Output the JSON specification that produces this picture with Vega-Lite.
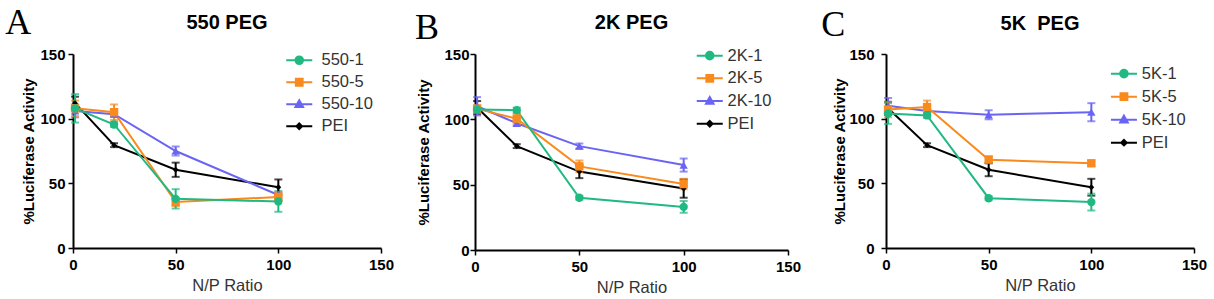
{
  "$schema": "https://vega.github.io/schema/vega-lite/v6.json",
  "padding": {"left": 5, "top": 4, "right": 0, "bottom": 0},
  "spacing": 20,
  "datasets": {
    "A": [
      {"series": "PEI", "np": 1, "mean": 112, "sd": 5},
      {"series": "PEI", "np": 20, "mean": 79.5, "sd": 1.5},
      {"series": "PEI", "np": 50, "mean": 60.5, "sd": 5.5},
      {"series": "PEI", "np": 100, "mean": 47, "sd": 6},
      {"series": "550-10", "np": 1, "mean": 106, "sd": 5},
      {"series": "550-10", "np": 20, "mean": 103.5, "sd": 2},
      {"series": "550-10", "np": 50, "mean": 75, "sd": 3.5},
      {"series": "550-10", "np": 100, "mean": 41, "sd": 2},
      {"series": "550-5", "np": 1, "mean": 108, "sd": 6},
      {"series": "550-5", "np": 20, "mean": 105, "sd": 6},
      {"series": "550-5", "np": 50, "mean": 35.5, "sd": 3},
      {"series": "550-5", "np": 100, "mean": 39.5, "sd": 3},
      {"series": "550-1", "np": 1, "mean": 108, "sd": 11},
      {"series": "550-1", "np": 20, "mean": 95.5, "sd": 2},
      {"series": "550-1", "np": 50, "mean": 38, "sd": 7.5},
      {"series": "550-1", "np": 100, "mean": 36, "sd": 8}
    ],
    "B": [
      {"series": "PEI", "np": 1, "mean": 109, "sd": 5},
      {"series": "PEI", "np": 20, "mean": 79.5, "sd": 1.5},
      {"series": "PEI", "np": 50, "mean": 60, "sd": 5},
      {"series": "PEI", "np": 100, "mean": 47, "sd": 7},
      {"series": "2K-10", "np": 1, "mean": 110, "sd": 7},
      {"series": "2K-10", "np": 20, "mean": 97, "sd": 2},
      {"series": "2K-10", "np": 50, "mean": 79.5, "sd": 2},
      {"series": "2K-10", "np": 100, "mean": 65, "sd": 5},
      {"series": "2K-5", "np": 1, "mean": 108, "sd": 3},
      {"series": "2K-5", "np": 20, "mean": 100.5, "sd": 4},
      {"series": "2K-5", "np": 50, "mean": 64, "sd": 4.5},
      {"series": "2K-5", "np": 100, "mean": 50.5, "sd": 4},
      {"series": "2K-1", "np": 1, "mean": 107.5, "sd": 2},
      {"series": "2K-1", "np": 20, "mean": 107, "sd": 2},
      {"series": "2K-1", "np": 50, "mean": 40, "sd": 1.5},
      {"series": "2K-1", "np": 100, "mean": 33, "sd": 4.5}
    ],
    "C": [
      {"series": "PEI", "np": 1, "mean": 108, "sd": 5},
      {"series": "PEI", "np": 20, "mean": 79.5, "sd": 1.5},
      {"series": "PEI", "np": 50, "mean": 60.5, "sd": 5},
      {"series": "PEI", "np": 100, "mean": 47, "sd": 6.5},
      {"series": "5K-10", "np": 1, "mean": 110, "sd": 6},
      {"series": "5K-10", "np": 20, "mean": 106, "sd": 2},
      {"series": "5K-10", "np": 50, "mean": 103, "sd": 3.5},
      {"series": "5K-10", "np": 100, "mean": 105, "sd": 7},
      {"series": "5K-5", "np": 1, "mean": 107, "sd": 6},
      {"series": "5K-5", "np": 20, "mean": 109, "sd": 5},
      {"series": "5K-5", "np": 50, "mean": 68.3, "sd": 2.5},
      {"series": "5K-5", "np": 100, "mean": 65.5, "sd": 2},
      {"series": "5K-1", "np": 1, "mean": 104, "sd": 8},
      {"series": "5K-1", "np": 20, "mean": 102.5, "sd": 2},
      {"series": "5K-1", "np": 50, "mean": 38.5, "sd": 1.5},
      {"series": "5K-1", "np": 100, "mean": 35.5, "sd": 6.5}
    ]
  },
  "hconcat": [
    {
      "width": 308, "height": 194,
      "data": {"name": "A"},
      "title": {"text": "550 PEG", "offset": -28},
      "layer": [
        {"mark": {"type": "line", "strokeWidth": 2}, "encoding": {
          "x": {"field": "np", "type": "quantitative", "title": "N/P Ratio", "scale": {"domain": [0, 150], "nice": false}, "axis": {"values": [0, 50, 100, 150]}},
          "y": {"field": "mean", "type": "quantitative", "title": "%Luciferase Activity", "scale": {"domain": [0, 150], "nice": false}, "axis": {"values": [0, 50, 100, 150], "labelPadding": 3, "titlePadding": 3}},
          "color": {"field": "series", "type": "nominal", "scale": {"domain": ["550-1", "550-5", "550-10", "PEI"], "range": ["#21b982", "#f98a1d", "#6a64f5", "#000000"]}, "legend": null}}},
        {"mark": {"type": "errorbar", "ticks": true, "thickness": 2, "size": 8}, "encoding": {"x": {"field": "np", "type": "quantitative", "title": "N/P Ratio"}, "y": {"field": "mean", "type": "quantitative", "title": "%Luciferase Activity"}, "yError": {"field": "sd"}, "color": {"field": "series", "type": "nominal", "legend": null}}},
        {"mark": {"type": "point", "filled": true, "size": 70, "opacity": 1}, "encoding": {"x": {"field": "np", "type": "quantitative", "title": "N/P Ratio"}, "y": {"field": "mean", "type": "quantitative", "title": "%Luciferase Activity"}, "color": {"field": "series", "type": "nominal", "legend": null}, "shape": {"field": "series", "type": "nominal", "scale": {"domain": ["550-1", "550-5", "550-10", "PEI"], "range": ["circle", "square", "triangle-up", "M0,-0.7L0.7,0L0,0.7L-0.7,0Z"]}, "legend": null}}},
        {"data": {"values": []}, "mark": {"type": "point", "filled": true, "size": 64, "opacity": 1, "strokeWidth": 2},
         "encoding": {
           "fill": {"field": "series", "type": "nominal", "scale": {"domain": ["550-1", "550-5", "550-10", "PEI"], "range": ["#21b982", "#f98a1d", "#6a64f5", "#000000"]}, "legend": {"title": null, "orient": "none", "legendX": 218, "legendY": -2, "labelOffset": 14, "rowPadding": 5, "padding": 0, "symbolSize": 64, "symbolStrokeWidth": 2}},
           "stroke": {"field": "series", "type": "nominal", "scale": {"domain": ["550-1", "550-5", "550-10", "PEI"], "range": ["#21b982", "#f98a1d", "#6a64f5", "#000000"]}, "legend": {"title": null, "orient": "none", "legendX": 218, "legendY": -2, "labelOffset": 14, "rowPadding": 5, "padding": 0, "symbolSize": 64, "symbolStrokeWidth": 2}},
           "shape": {"field": "series", "type": "nominal", "scale": {"domain": ["550-1", "550-5", "550-10", "PEI"], "range": ["M-3.25,0H3.25M0.95,0A0.95,0.95,0,1,1,-0.95,0A0.95,0.95,0,1,1,0.95,0Z", "M-3.25,0H3.25M-0.85,-0.85H0.85V0.85H-0.85Z", "M-3.25,0H3.25M0,-1L0.95,0.7H-0.95Z", "M-3.25,0H3.25M0,-0.7L0.7,0L0,0.7L-0.7,0Z"]}, "legend": {"title": null, "orient": "none", "legendX": 218, "legendY": -2, "labelOffset": 14, "rowPadding": 5, "padding": 0, "symbolSize": 64, "symbolStrokeWidth": 2}}
         }},
        {"data": {"values": [{"letter": "A"}]}, "mark": {"type": "text", "font": "Liberation Serif", "fontSize": 36, "align": "left", "baseline": "alphabetic", "color": "#000000"},
         "encoding": {"x": {"datum": -33, "type": "quantitative"}, "y": {"datum": 165.5, "type": "quantitative"}, "text": {"field": "letter"}}}
      ],
      "resolve": {"scale": {"shape": "independent", "fill": "independent", "stroke": "independent"}}
    },
    {
      "width": 313, "height": 196,
      "data": {"name": "B"},
      "title": {"text": "2K PEG", "offset": -23.3},
      "layer": [
        {"mark": {"type": "line", "strokeWidth": 2}, "encoding": {
          "x": {"field": "np", "type": "quantitative", "title": "N/P Ratio", "scale": {"domain": [0, 150], "nice": false}, "axis": {"values": [0, 50, 100, 150]}},
          "y": {"field": "mean", "type": "quantitative", "title": "%Luciferase Activity", "scale": {"domain": [0, 150], "nice": false}, "axis": {"values": [0, 50, 100, 150], "labelPadding": 1, "titlePadding": 12}},
          "color": {"field": "series", "type": "nominal", "scale": {"domain": ["2K-1", "2K-5", "2K-10", "PEI"], "range": ["#21b982", "#f98a1d", "#6a64f5", "#000000"]}, "legend": null}}},
        {"mark": {"type": "errorbar", "ticks": true, "thickness": 2, "size": 8}, "encoding": {"x": {"field": "np", "type": "quantitative", "title": "N/P Ratio"}, "y": {"field": "mean", "type": "quantitative", "title": "%Luciferase Activity"}, "yError": {"field": "sd"}, "color": {"field": "series", "type": "nominal", "legend": null}}},
        {"mark": {"type": "point", "filled": true, "size": 70, "opacity": 1}, "encoding": {"x": {"field": "np", "type": "quantitative", "title": "N/P Ratio"}, "y": {"field": "mean", "type": "quantitative", "title": "%Luciferase Activity"}, "color": {"field": "series", "type": "nominal", "legend": null}, "shape": {"field": "series", "type": "nominal", "scale": {"domain": ["2K-1", "2K-5", "2K-10", "PEI"], "range": ["circle", "square", "triangle-up", "M0,-0.7L0.7,0L0,0.7L-0.7,0Z"]}, "legend": null}}},
        {"data": {"values": []}, "mark": {"type": "point", "filled": true, "size": 64, "opacity": 1, "strokeWidth": 2},
         "encoding": {
           "fill": {"field": "series", "type": "nominal", "scale": {"domain": ["2K-1", "2K-5", "2K-10", "PEI"], "range": ["#21b982", "#f98a1d", "#6a64f5", "#000000"]}, "legend": {"title": null, "orient": "none", "legendX": 226.5, "legendY": -6.6, "labelOffset": 9.5, "rowPadding": 5.7, "padding": 0, "symbolSize": 64, "symbolStrokeWidth": 2}},
           "stroke": {"field": "series", "type": "nominal", "scale": {"domain": ["2K-1", "2K-5", "2K-10", "PEI"], "range": ["#21b982", "#f98a1d", "#6a64f5", "#000000"]}, "legend": {"title": null, "orient": "none", "legendX": 226.5, "legendY": -6.6, "labelOffset": 9.5, "rowPadding": 5.7, "padding": 0, "symbolSize": 64, "symbolStrokeWidth": 2}},
           "shape": {"field": "series", "type": "nominal", "scale": {"domain": ["2K-1", "2K-5", "2K-10", "PEI"], "range": ["M-3.25,0H3.25M0.95,0A0.95,0.95,0,1,1,-0.95,0A0.95,0.95,0,1,1,0.95,0Z", "M-3.25,0H3.25M-0.85,-0.85H0.85V0.85H-0.85Z", "M-3.25,0H3.25M0,-1L0.95,0.7H-0.95Z", "M-3.25,0H3.25M0,-0.7L0.7,0L0,0.7L-0.7,0Z"]}, "legend": {"title": null, "orient": "none", "legendX": 226.5, "legendY": -6.6, "labelOffset": 9.5, "rowPadding": 5.7, "padding": 0, "symbolSize": 64, "symbolStrokeWidth": 2}}
         }},
        {"data": {"values": [{"letter": "B"}]}, "mark": {"type": "text", "font": "Liberation Serif", "fontSize": 36, "align": "left", "baseline": "alphabetic", "color": "#000000"},
         "encoding": {"x": {"datum": -28.8, "type": "quantitative"}, "y": {"datum": 161.5, "type": "quantitative"}, "text": {"field": "letter"}}}
      ],
      "resolve": {"scale": {"shape": "independent", "fill": "independent", "stroke": "independent"}}
    },
    {
      "width": 308, "height": 194,
      "data": {"name": "C"},
      "title": {"text": "5K\u00a0 PEG", "offset": -26.6},
      "layer": [
        {"mark": {"type": "line", "strokeWidth": 2}, "encoding": {
          "x": {"field": "np", "type": "quantitative", "title": "N/P Ratio", "scale": {"domain": [0, 150], "nice": false}, "axis": {"values": [0, 50, 100, 150]}},
          "y": {"field": "mean", "type": "quantitative", "title": "%Luciferase Activity", "scale": {"domain": [0, 150], "nice": false}, "axis": {"values": [0, 50, 100, 150], "labelPadding": 7, "titlePadding": 1}},
          "color": {"field": "series", "type": "nominal", "scale": {"domain": ["5K-1", "5K-5", "5K-10", "PEI"], "range": ["#21b982", "#f98a1d", "#6a64f5", "#000000"]}, "legend": null}}},
        {"mark": {"type": "errorbar", "ticks": true, "thickness": 2, "size": 8}, "encoding": {"x": {"field": "np", "type": "quantitative", "title": "N/P Ratio"}, "y": {"field": "mean", "type": "quantitative", "title": "%Luciferase Activity"}, "yError": {"field": "sd"}, "color": {"field": "series", "type": "nominal", "legend": null}}},
        {"mark": {"type": "point", "filled": true, "size": 70, "opacity": 1}, "encoding": {"x": {"field": "np", "type": "quantitative", "title": "N/P Ratio"}, "y": {"field": "mean", "type": "quantitative", "title": "%Luciferase Activity"}, "color": {"field": "series", "type": "nominal", "legend": null}, "shape": {"field": "series", "type": "nominal", "scale": {"domain": ["5K-1", "5K-5", "5K-10", "PEI"], "range": ["circle", "square", "triangle-up", "M0,-0.7L0.7,0L0,0.7L-0.7,0Z"]}, "legend": null}}},
        {"data": {"values": []}, "mark": {"type": "point", "filled": true, "size": 64, "opacity": 1, "strokeWidth": 2},
         "encoding": {
           "fill": {"field": "series", "type": "nominal", "scale": {"domain": ["5K-1", "5K-5", "5K-10", "PEI"], "range": ["#21b982", "#f98a1d", "#6a64f5", "#000000"]}, "legend": {"title": null, "orient": "none", "legendX": 229.7, "legendY": 11.4, "labelOffset": 9.5, "rowPadding": 6, "padding": 0, "symbolSize": 64, "symbolStrokeWidth": 2}},
           "stroke": {"field": "series", "type": "nominal", "scale": {"domain": ["5K-1", "5K-5", "5K-10", "PEI"], "range": ["#21b982", "#f98a1d", "#6a64f5", "#000000"]}, "legend": {"title": null, "orient": "none", "legendX": 229.7, "legendY": 11.4, "labelOffset": 9.5, "rowPadding": 6, "padding": 0, "symbolSize": 64, "symbolStrokeWidth": 2}},
           "shape": {"field": "series", "type": "nominal", "scale": {"domain": ["5K-1", "5K-5", "5K-10", "PEI"], "range": ["M-3.25,0H3.25M0.95,0A0.95,0.95,0,1,1,-0.95,0A0.95,0.95,0,1,1,0.95,0Z", "M-3.25,0H3.25M-0.85,-0.85H0.85V0.85H-0.85Z", "M-3.25,0H3.25M0,-1L0.95,0.7H-0.95Z", "M-3.25,0H3.25M0,-0.7L0.7,0L0,0.7L-0.7,0Z"]}, "legend": {"title": null, "orient": "none", "legendX": 229.7, "legendY": 11.4, "labelOffset": 9.5, "rowPadding": 6, "padding": 0, "symbolSize": 64, "symbolStrokeWidth": 2}}
         }},
        {"data": {"values": [{"letter": "C"}]}, "mark": {"type": "text", "font": "Liberation Serif", "fontSize": 36, "align": "left", "baseline": "alphabetic", "color": "#000000"},
         "encoding": {"x": {"datum": -31.5, "type": "quantitative"}, "y": {"datum": 163.6, "type": "quantitative"}, "text": {"field": "letter"}}}
      ],
      "resolve": {"scale": {"shape": "independent", "fill": "independent", "stroke": "independent"}}
    }
  ],
  "resolve": {"scale": {"color": "independent", "shape": "independent", "fill": "independent", "stroke": "independent", "x": "independent", "y": "independent"}},
  "config": {
    "view": {"stroke": null},
    "font": "Liberation Sans",
    "axis": {"domainColor": "#000000", "domainWidth": 2, "tickColor": "#000000", "tickWidth": 1.5, "tickSize": 5, "grid": false, "labelFont": "Liberation Sans", "labelFontSize": 15, "labelFontWeight": "bold", "labelColor": "#000000", "titleFont": "Liberation Sans"},
    "axisX": {"titleFontWeight": "normal", "titleFontSize": 16.5, "titleColor": "#333333", "labelPadding": 4, "titlePadding": 5, "labelFlush": false},
    "axisY": {"titleFontWeight": "bold", "titleFontSize": 15, "titleColor": "#000000"},
    "legend": {"labelFont": "Liberation Sans", "labelFontSize": 16.5, "labelColor": "#333333"},
    "title": {"font": "Liberation Sans", "fontSize": 20, "fontWeight": "bold", "color": "#000000", "frame": "group", "anchor": "middle"}
  }
}
